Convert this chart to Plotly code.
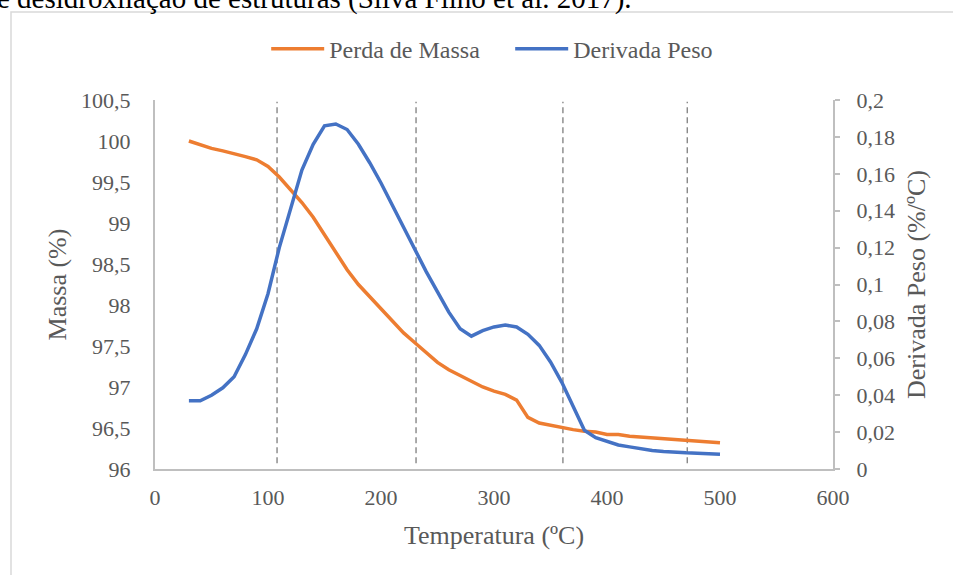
import plotly.graph_objects as go

temperatura = [30, 40, 50, 60, 70, 80, 90, 100, 110, 120, 130, 140, 150, 160, 170, 180,
               190, 200, 210, 220, 230, 240, 250, 260, 270, 280, 290, 300, 310, 320, 330,
               340, 350, 360, 370, 380, 390, 400, 410, 420, 430, 440, 450, 460, 470, 480,
               490, 500]
perda_massa = [100.00, 99.95, 99.91, 99.88, 99.85, 99.81, 99.77, 99.69, 99.56, 99.41,
               99.25, 99.07, 98.86, 98.65, 98.43, 98.25, 98.10, 97.95, 97.80, 97.66,
               97.54, 97.42, 97.30, 97.21, 97.14, 97.08, 97.00, 96.95, 96.91, 96.84,
               96.63, 96.56, 96.53, 96.50, 96.48, 96.46, 96.45, 96.42, 96.42, 96.40,
               96.39, 96.38, 96.37, 96.36, 96.35, 96.34, 96.34, 96.32]
derivada_peso = [0.037, 0.037, 0.040, 0.044, 0.050, 0.062, 0.076, 0.095, 0.120, 0.141,
                 0.162, 0.176, 0.186, 0.187, 0.184, 0.176, 0.166, 0.155, 0.143, 0.130,
                 0.118, 0.107, 0.096, 0.085, 0.076, 0.072, 0.075, 0.077, 0.078, 0.077,
                 0.073, 0.067, 0.058, 0.047, 0.034, 0.021, 0.017, 0.015, 0.013, 0.012,
                 0.011, 0.010, 0.0095, 0.009, 0.0088, 0.0086, 0.0083, 0.008]
limites_etapas = [108, 231, 361, 471]

FONT = "Liberation Serif"
GREY = "#595959"
AXIS = "#BFBFBF"

fig = go.Figure()
fig.add_trace(go.Scatter(x=temperatura, y=perda_massa, name="Perda de Massa",
                         mode="lines", line=dict(color="#ED7D31", width=3.5)))
fig.add_trace(go.Scatter(x=temperatura, y=derivada_peso, name="Derivada Peso",
                         mode="lines", line=dict(color="#4472C4", width=3.5),
                         yaxis="y2"))

for t in limites_etapas:
    fig.add_shape(type="line", xref="x", yref="y", x0=t, x1=t, y0=96.07, y1=100.48,
                  line=dict(color="#737373", width=1.2, dash="6px,4px"), layer="below")

# chart frame (partially visible) and cut-off caption text
fig.add_shape(type="rect", xref="paper", yref="paper", x0=-0.2124, x1=1.4,
              y0=-0.5, y1=1.2385, line=dict(color="#D9D9D9", width=1.5), layer="below")
fig.add_annotation(xref="paper", yref="paper", x=-0.236, y=1.276, xanchor="left",
                   yanchor="middle", showarrow=False,
                   text="e desidroxilação de estruturas (Silva Filho et al. 2017).",
                   font=dict(family=FONT, size=29, color="#000000"))

fig.update_layout(
    width=953, height=575,
    margin=dict(l=155, r=120, t=100, b=106),
    paper_bgcolor="white", plot_bgcolor="white",
    separators=", ",
    font=dict(family=FONT, size=22, color=GREY),
    showlegend=True,
    legend=dict(orientation="h", x=0.164, y=1.138, xanchor="left", yanchor="middle",
                itemwidth=53, entrywidth=176, entrywidthmode="pixels",
                font=dict(family=FONT, size=24, color=GREY), bgcolor="rgba(0,0,0,0)"),
    xaxis=dict(range=[0, 600], dtick=100, tick0=0, showgrid=False, zeroline=False,
               showline=True, linecolor=AXIS, linewidth=2, ticks="",
               ticklabelstandoff=8,
               title=dict(text="Temperatura (ºC)", font=dict(size=26, color=GREY), standoff=16)),
    yaxis=dict(range=[96, 100.5], dtick=0.5, tick0=96, showgrid=False, zeroline=False,
               showline=True, linecolor=AXIS, linewidth=2, ticks="",
               ticklabelstandoff=18,
               title=dict(text="Massa (%)", font=dict(size=26, color=GREY), standoff=7)),
    yaxis2=dict(range=[0, 0.2], dtick=0.02, tick0=0, overlaying="y", side="right",
                showgrid=False, zeroline=False, showline=True, linecolor=AXIS,
                linewidth=2, ticks="outside", ticklen=5, tickcolor=AXIS, tickwidth=1.5,
                ticklabelstandoff=12,
                title=dict(text="Derivada Peso (%/ºC)", font=dict(size=26, color=GREY),
                           standoff=13)),
)

fig.write_html("out.html")
